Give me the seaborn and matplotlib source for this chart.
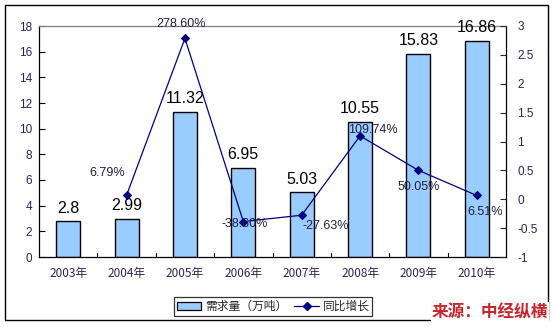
import matplotlib
matplotlib.use("Agg")
import matplotlib.pyplot as plt
import seaborn as sns
import pandas as pd
import numpy as np
from matplotlib.patches import Rectangle, Patch
from matplotlib.lines import Line2D

# Demand (10k tonnes) and year-on-year growth
years = ["2003年", "2004年", "2005年", "2006年", "2007年", "2008年", "2009年", "2010年"]
demand = [2.8, 2.99, 11.32, 6.95, 5.03, 10.55, 15.83, 16.86]
growth = [np.nan, 0.0679, 2.786, -0.386, -0.2763, 1.0974, 0.5005, 0.0651]
growth_labels = ["", "6.79%", "278.60%", "-38.60%", "-27.63%", "109.74%", "50.05%", "6.51%"]

# label offsets (points) for growth annotations
growth_offsets = [(0, 0), (-14, 16), (-3, 10), (1, -2), (17, -8), (9, 4), (0, -12), (6, -12)]

sns.set_theme(style="white")
plt.rcParams["font.family"] = ["Noto Sans CJK SC", "DejaVu Sans"]

df = pd.DataFrame({"year": years, "demand": demand, "growth": growth})

fig = plt.figure(figsize=(5.55, 3.27), dpi=100)
ax = fig.add_axes([39 / 555, 1 - 257 / 327, (506 - 39) / 555, (257 - 26) / 327])

bar_color = "#99CCFF"
line_color = "#000080"
tick_color = "#30205a"
num_font = ["Liberation Sans", "DejaVu Sans"]

sns.barplot(data=df, x="year", y="demand", ax=ax, color=bar_color,
            edgecolor="black", linewidth=1.0, width=0.41, saturation=1)

for i, v in enumerate(demand):
    ax.annotate(f"{v:g}", (i, v), xytext=(0, 4), textcoords="offset points",
                ha="center", va="bottom", fontsize=11.5, color="black",
                family=num_font)

ax.set_ylim(0, 18)
ax.set_yticks(np.arange(0, 19, 2))
ax.set_xlim(-0.5, len(years) - 0.5)
ax.set_xlabel("")
ax.set_ylabel("")

ax.tick_params(axis="y", direction="in", length=4, width=0.8, colors="black",
               labelsize=8.5, pad=5, left=True)
ax.tick_params(axis="x", direction="in", length=0, labelsize=8.5, pad=7)
for lab in ax.get_yticklabels():
    lab.set_family(num_font)
    lab.set_color(tick_color)
for lab in ax.get_xticklabels():
    lab.set_color(tick_color)

# category separators on the x axis
for k in range(1, len(years)):
    ax.plot([k - 0.5, k - 0.5], [0, 0.35], color="black", lw=0.8, clip_on=False)

ax.spines["left"].set_color("black")
ax.spines["bottom"].set_color("black")
ax.spines["right"].set_color("black")
ax.spines["top"].set_color("#808080")
for s in ax.spines.values():
    s.set_linewidth(0.9)

ax2 = ax.twinx()
sns.lineplot(data=df, x="year", y="growth", ax=ax2, color=line_color, lw=0.9,
             marker="D", markersize=4, markeredgecolor=line_color, sort=False)
ax2.set_ylim(-1, 3)
ax2.set_yticks(np.arange(-1, 3.01, 0.5))
ax2.set_yticklabels([f"{t:g}" for t in np.arange(-1, 3.01, 0.5)])
ax2.set_ylabel("")
ax2.tick_params(axis="y", direction="in", length=4, width=0.8, labelsize=8.5,
                pad=8, right=True)
for lab in ax2.get_yticklabels():
    lab.set_family(num_font)
    lab.set_color(tick_color)
for s in ax2.spines.values():
    s.set_visible(False)

for i, (g, t) in enumerate(zip(growth, growth_labels)):
    if t:
        ax2.annotate(t, (i, g), xytext=growth_offsets[i], textcoords="offset points",
                     ha="center", va="center", fontsize=9, color="#202040",
                     family=num_font)

# legend
handles = [Patch(facecolor=bar_color, edgecolor="black", linewidth=0.9),
           Line2D([0], [0], color=line_color, lw=0.9, marker="D", markersize=4)]
leg = fig.legend(handles, ["需求量（万吨）", "同比增长"], loc="center",
                 bbox_to_anchor=(273 / 555, 1 - 306.5 / 327), ncol=2, frameon=True,
                 fancybox=False, fontsize=8.5, handlelength=2.1, handleheight=0.7,
                 columnspacing=0.6, handletextpad=0.3, borderpad=0.25,
                 borderaxespad=0)
leg.get_frame().set_edgecolor("black")
leg.get_frame().set_linewidth(0.9)

# outer chart border
fig.patches.append(Rectangle((5 / 555, 1 - 320 / 327), 543 / 555, 315 / 327,
                             transform=fig.transFigure, fill=False,
                             edgecolor="black", lw=1.0))

fig.text(490 / 555, 1 - 312 / 327, "来源：中经纵横", ha="center", va="center",
         fontsize=12, fontweight="bold", color="#C8262A",
         family=["Noto Sans CJK SC", "DejaVu Sans"],
         bbox=dict(facecolor="white", edgecolor="none", pad=0.5))

fig.savefig("out.png", dpi=100)
